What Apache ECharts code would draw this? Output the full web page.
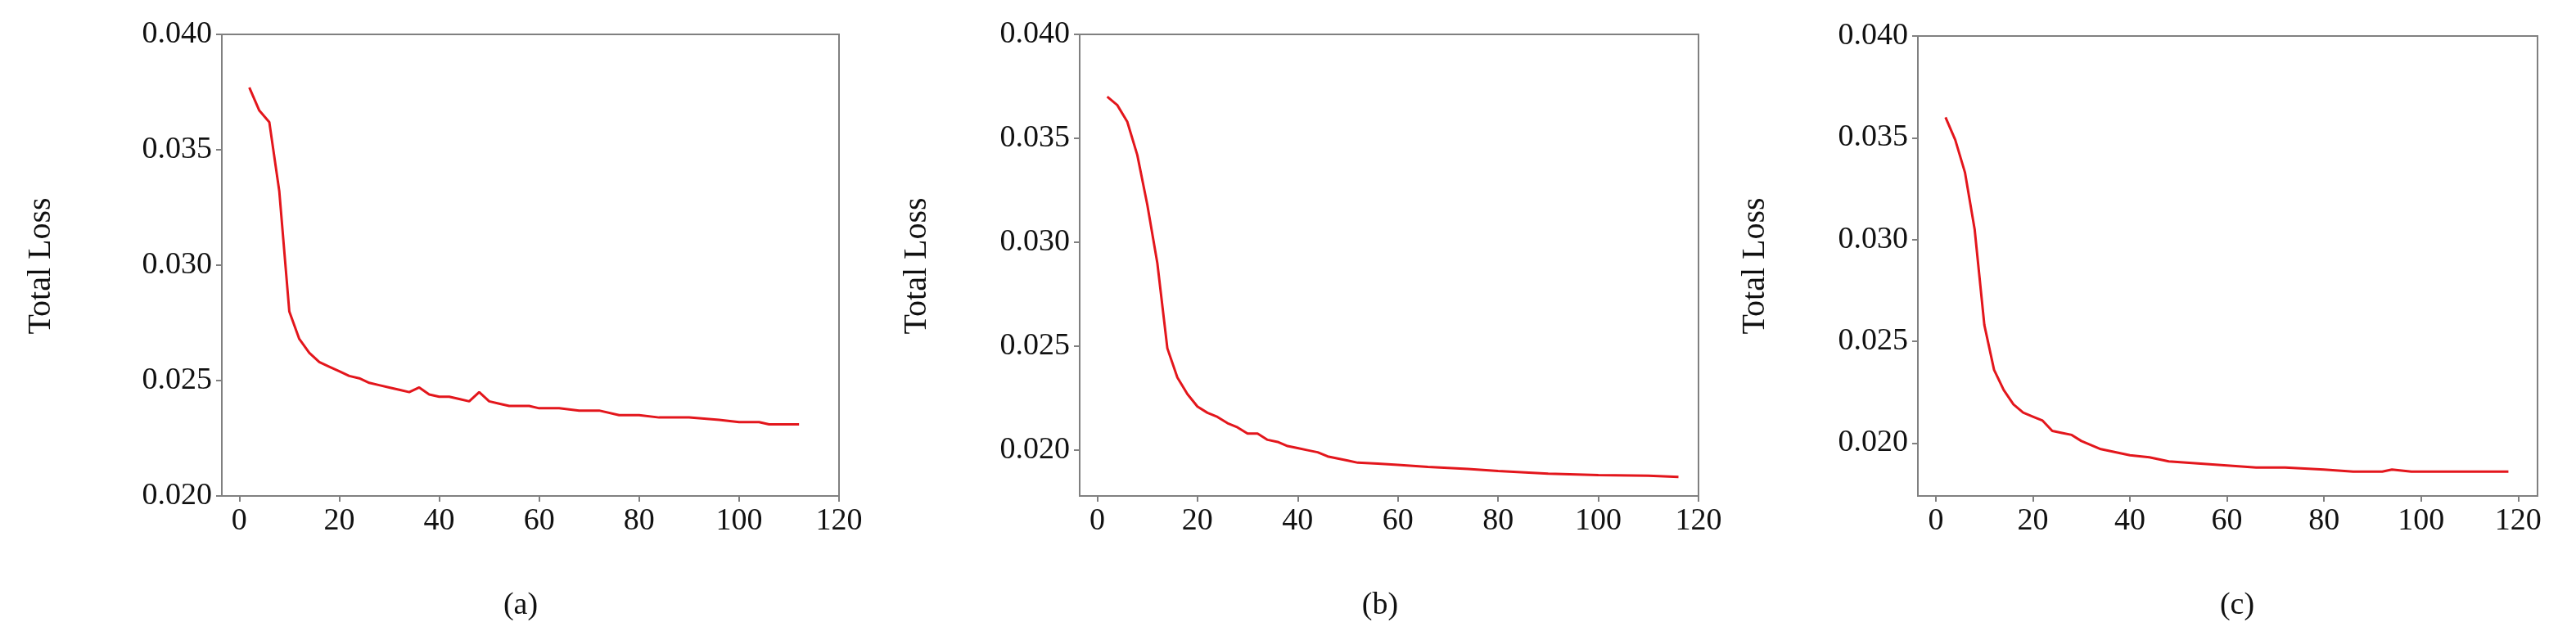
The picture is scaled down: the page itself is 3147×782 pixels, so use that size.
<!DOCTYPE html>
<html><head><meta charset="utf-8">
<script src="https://cdn.jsdelivr.net/npm/echarts@6/dist/echarts.min.js"></script>
<style>html,body{margin:0;padding:0;background:#fff}#c{width:3147px;height:782px}</style>
</head><body><div id="c"></div>
<script>
const xTicks = [0, 20, 40, 60, 80, 100, 120];
const yTicks = [0.020, 0.025, 0.030, 0.035, 0.040];
const captions = ['(a)', '(b)', '(c)'];
const yName = 'Total Loss';

const xA = [2,4,6,8,10,12,14,16,18,20,22,24,26,28,30,32,34,36,38,40,42,44,46,48,50,52,54,56,58,60,64,68,70,72,76,80,84,88,90,96,100,104,106,112];
const yA = [0.0377,0.0367,0.0362,0.0332,0.0280,0.0268,0.0262,0.0258,0.0256,0.0254,0.0252,0.0251,0.0249,0.0248,0.0247,0.0246,0.0245,0.0247,0.0244,0.0243,0.0243,0.0242,0.0241,0.0245,0.0241,0.0240,0.0239,0.0239,0.0239,0.0238,0.0238,0.0237,0.0237,0.0237,0.0235,0.0235,0.0234,0.0234,0.0234,0.0233,0.0232,0.0232,0.0231,0.0231];

const xB = [2,4,6,8,10,12,14,16,18,20,22,24,26,28,30,32,34,36,38,40,42,44,46,48,50,52,56,60,66,74,80,90,100,110,116];
const yB = [0.0370,0.0366,0.0358,0.0342,0.0318,0.0290,0.0249,0.0235,0.0227,0.0221,0.0218,0.0216,0.0213,0.0211,0.0208,0.0208,0.0205,0.0204,0.0202,0.0201,0.0200,0.0199,0.0197,0.0196,0.0195,0.0194,0.01935,0.0193,0.0192,0.0191,0.0190,0.01887,0.0188,0.01877,0.01872];

const xC = [2,4,6,8,10,12,14,16,18,20,22,24,26,28,30,32,34,36,38,40,44,48,54,60,66,72,80,86,92,94,98,104,118];
const yC = [0.0360,0.0349,0.0333,0.0305,0.0258,0.0236,0.0226,0.0219,0.0215,0.0213,0.0211,0.0206,0.0205,0.0204,0.0201,0.0199,0.0197,0.0196,0.0195,0.0194,0.0193,0.0191,0.0190,0.0189,0.0188,0.0188,0.0187,0.0186,0.0186,0.0187,0.0186,0.0186,0.0186];

const panels = [
  {x: xA, y: yA, left: 271, width: 754, top: 42, ymin: 0.020, xmin: -3.5, xmax: 120, nameX: 50, capX: 636},
  {x: xB, y: yB, left: 1319, width: 756, top: 42, ymin: 0.0178, xmin: -3.5, xmax: 120, nameX: 1120, capX: 1686},
  {x: xC, y: yC, left: 2343, width: 757, top: 44, ymin: 0.0174, xmin: -3.7, xmax: 124, nameX: 2144, capX: 2733}
];
const font = 'Liberation Serif';
const axisCol = '#808080';
const grid = [], xAxis = [], yAxis = [], series = [], graphic = [];
panels.forEach((p, i) => {
  grid.push({left: p.left, width: p.width, top: p.top, bottom: 176, show: true, borderColor: axisCol, borderWidth: 2, backgroundColor: '#fff'});
  xAxis.push({type: 'value', gridIndex: i, min: p.xmin, max: p.xmax,
    axisLine: {show: true, onZero: false, lineStyle: {color: axisCol, width: 2}},
    axisTick: {show: true, customValues: xTicks, length: 7, lineStyle: {color: axisCol, width: 2}},
    axisLabel: {customValues: xTicks, color: '#111', fontFamily: font, fontSize: 38, margin: 12, showMinLabel: true, showMaxLabel: true},
    splitLine: {show: false}});
  yAxis.push({type: 'value', gridIndex: i, min: p.ymin, max: 0.040,
    axisLine: {show: true, onZero: false, lineStyle: {color: axisCol, width: 2}},
    axisTick: {show: true, customValues: yTicks, length: 7, lineStyle: {color: axisCol, width: 2}},
    axisLabel: {customValues: yTicks, color: '#111', fontFamily: font, fontSize: 38, margin: 12, formatter: v => v.toFixed(3)},
    splitLine: {show: false}});
  series.push({type: 'line', xAxisIndex: i, yAxisIndex: i, showSymbol: false, symbol: 'none',
    lineStyle: {color: '#e3161c', width: 3}, data: p.x.map((v, k) => [v, p.y[k]])});
  graphic.push({type: 'text', x: p.nameX, y: 325, rotation: Math.PI / 2,
    style: {text: yName, font: '40px "Liberation Serif"', fill: '#111', textAlign: 'center', textVerticalAlign: 'middle'}});
  graphic.push({type: 'text', x: p.capX, y: 740,
    style: {text: captions[i], font: '38px "Liberation Serif"', fill: '#111', textAlign: 'center', textVerticalAlign: 'middle'}});
});
const chart = echarts.init(document.getElementById('c'), null, {renderer: 'canvas'});
chart.setOption({animation: false, backgroundColor: '#fff', grid, xAxis, yAxis, series, graphic});
</script></body></html>
